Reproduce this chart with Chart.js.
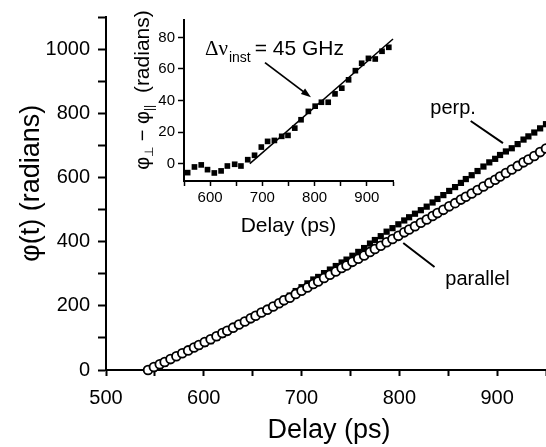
<!DOCTYPE html>
<html>
<head>
<meta charset="utf-8">
<script src="https://cdn.jsdelivr.net/npm/chart.js@4.4.0/dist/chart.umd.min.js"></script>
<style>
html, body { margin: 0; padding: 0; background: #fff; }
#wrap { position: relative; width: 546px; height: 447px; }
#mainChart { position: absolute; left: 0; top: 0; }
#insetChart { position: absolute; left: 100px; top: 0; }
</style>
</head>
<body>
<div id="wrap">
	<canvas id="mainChart" width="546" height="447"></canvas>
	<canvas id="insetChart" width="310" height="245"></canvas>
</div>
<script>

// main plot: phase vs delay
var delay = [543, 549, 555, 560, 566, 572, 578, 584, 590, 595, 601, 607, 613, 619, 624, 630, 636, 642, 648, 653,
	659, 665, 671, 677, 682, 688, 694, 700, 706, 712, 717, 723, 729, 735, 741, 746, 752, 758, 764, 770,
	775, 781, 787, 793, 799, 805, 810, 816, 822, 828, 834, 839, 845, 851, 857, 863, 868, 874, 880, 886,
	892, 898, 903, 909, 915, 921, 927, 932, 938, 944, 950];

var parallel = [0, 9, 18, 25, 34, 43, 52, 61, 70, 78, 87, 96, 105, 115, 122, 132, 142, 151, 161, 169,
	179, 188, 198, 208, 217, 225, 237, 247, 257, 268, 276, 287, 297, 307, 318, 326, 337, 347, 357, 368,
	377, 387, 398, 408, 418, 429, 438, 448, 459, 469, 480, 489, 499, 510, 520, 531, 540, 550, 561, 572,
	583, 593, 603, 614, 625, 636, 647, 656, 667, 679, 690];

var perp = [0, 5, 13, 20, 31, 41, 51, 60, 68, 74, 82, 90, 100, 110, 118, 130, 141, 150, 161, 168,
	178, 188, 200, 212, 222, 232, 246, 258, 270, 282, 290, 302, 313, 324, 335, 344, 356, 368, 380, 394,
	405, 417, 431, 442, 454, 466, 476, 487, 498, 509, 522, 533, 545, 558, 570, 583, 595, 607, 620, 634,
	647, 658, 670, 681, 691, 704, 718, 728, 740, 753, 766];

// inset: phase difference
var insetDelay = [557, 570, 583, 595, 608, 621, 633, 647, 659, 672, 685, 698, 710, 723, 737, 749,
	762, 774, 788, 801, 813, 826, 839, 852, 865, 878, 890, 903, 916, 929, 942];
var insetDiff = [-5.7, -2.1, -0.8, -3.8, -5.9, -4.6, -1.5, -0.4, -1.5, 2.5, 5.3, 10.5, 14.1, 14.7, 17.3, 17.9,
	22.5, 27.8, 33.1, 36.4, 38.9, 38.9, 44.2, 47.8, 53.1, 58.9, 63.6, 66.7, 66.3, 71.2, 73.7];
var fitDelay = [676, 950];
var fitDiff = [0, 79];

var insetYTicks = [0, 20, 40, 60, 80];

var SANS = '"Liberation Sans", Arial, Helvetica, sans-serif';
var SERIF = '"Liberation Serif", "Times New Roman", serif';

function toPoints(xs, ys){
	return xs.map(function(x, i){ return { x: x, y: ys[i] }; });
}

var mainNotes = {
	id: 'mainNotes',
	afterDraw: function(chart){
		var ctx = chart.ctx, xs = chart.scales.x, ys = chart.scales.y;
		function px(x){ return xs.getPixelForValue(x); }
		function py(y){ return ys.getPixelForValue(y); }
		ctx.save();
		ctx.strokeStyle = '#000';
		ctx.lineWidth = 2;
		ctx.beginPath();
		ctx.moveTo(px(873), py(776));
		ctx.lineTo(px(906), py(707));
		ctx.moveTo(px(804), py(396));
		ctx.lineTo(px(836), py(321));
		ctx.stroke();
		ctx.fillStyle = '#000';
		ctx.font = '20px ' + SANS;
		ctx.textAlign = 'center';
		ctx.textBaseline = 'middle';
		ctx.fillText('perp.', px(855), py(816));
		ctx.fillText('parallel', px(880), py(283));

		// axis titles
		ctx.font = '27px ' + SANS;
		ctx.fillText('Delay (ps)', px(728), 431);
		ctx.translate(32, py(582));
		ctx.rotate(-Math.PI / 2);
		ctx.fillText('φ(t) (radians)', 0, 0);
		ctx.restore();
	}
};

var mainChart = new Chart(document.getElementById('mainChart'), {
	type: 'scatter',
	data: {
		datasets: [{
			label: 'parallel',
			data: toPoints(delay, parallel),
			pointStyle: 'circle',
			pointRadius: 4.4,
			pointBorderWidth: 1.8,
			pointBorderColor: '#000',
			pointBackgroundColor: '#fff',
			clip: false
		}, {
			label: 'perp.',
			data: toPoints(delay, perp),
			pointStyle: 'rect',
			pointRadius: 4.4,
			pointBorderWidth: 0,
			pointBorderColor: '#000',
			pointBackgroundColor: '#000',
			clip: false
		}]
	},
	options: {
		responsive: false,
		animation: false,
		layout: { autoPadding: false, padding: { top: 17, right: 0, left: 0, bottom: 0 } },
		plugins: { legend: { display: false }, tooltip: { enabled: false } },
		scales: {
			x: {
				type: 'linear',
				min: 500,
				max: 950,
				afterFit: function(s){ s.height = 77; s.paddingLeft = 0; s.paddingRight = 0; },
				ticks: {
					stepSize: 50, autoSkip: false, maxRotation: 0, padding: 10, color: '#000',
					font: { family: SANS, size: 20 },
					callback: function(v){ return v % 100 === 0 ? v : ''; }
				},
				grid: { drawOnChartArea: false, tickLength: 6, tickWidth: 2, tickColor: '#000' },
				border: { color: '#000', width: 2 }
			},
			y: {
				type: 'linear',
				min: 0,
				max: 1100,
				afterFit: function(s){ s.width = 106; s.paddingTop = 0; s.paddingBottom = 0; },
				ticks: {
					stepSize: 100, autoSkip: false, padding: 8, color: '#000',
					font: { family: SANS, size: 20 },
					callback: function(v){ return (v % 200 === 0 && v <= 1000) ? v : ''; }
				},
				grid: { drawOnChartArea: false, tickLength: 8, tickWidth: 2, tickColor: '#000' },
				border: { color: '#000', width: 2 }
			}
		}
	},
	plugins: [mainNotes]
});

var insetNotes = {
	id: 'insetNotes',
	afterDraw: function(chart){
		var ctx = chart.ctx, xs = chart.scales.x, ys = chart.scales.y;
		function px(x){ return xs.getPixelForValue(x); }
		function py(y){ return ys.getPixelForValue(y); }
		ctx.save();
		ctx.fillStyle = '#000';
		ctx.strokeStyle = '#000';

		// arrow to the fitted line
		var x0 = px(705), y0 = py(64), x1 = px(793), y1 = py(42);
		var a = Math.atan2(y1 - y0, x1 - x0);
		ctx.lineWidth = 1.8;
		ctx.beginPath();
		ctx.moveTo(x0, y0);
		ctx.lineTo(x1 - 7 * Math.cos(a), y1 - 7 * Math.sin(a));
		ctx.stroke();
		ctx.beginPath();
		ctx.moveTo(x1, y1);
		ctx.lineTo(x1 - 10 * Math.cos(a) + 3.5 * Math.sin(a), y1 - 10 * Math.sin(a) - 3.5 * Math.cos(a));
		ctx.lineTo(x1 - 10 * Math.cos(a) - 3.5 * Math.sin(a), y1 - 10 * Math.sin(a) + 3.5 * Math.cos(a));
		ctx.closePath();
		ctx.fill();

		// annotation text
		var tx = px(590), ty = py(68.6);
		ctx.textBaseline = 'alphabetic';
		ctx.textAlign = 'left';
		ctx.font = '21px ' + SERIF;
		ctx.fillText('Δν', tx, ty);
		tx += ctx.measureText('Δν').width + 1;
		ctx.font = '14px ' + SANS;
		ctx.fillText('inst', tx, ty + 7);
		tx += ctx.measureText('inst').width + 4;
		ctx.font = '21px ' + SANS;
		ctx.fillText('= 45 GHz', tx, ty);

		// rotated y title
		var parts = [
			['φ', 20, 0], ['⊥', 12, 4], [' − ', 20, 0], ['φ', 20, 0], ['||', 12, 4], ['  (radians)', 21, 0]
		];
		var total = 0;
		parts.forEach(function(p){ ctx.font = p[1] + 'px ' + SANS; total += ctx.measureText(p[0]).width; });
		ctx.translate(xs.left - 42, 90);
		ctx.rotate(-Math.PI / 2);
		var cx = -total / 2;
		parts.forEach(function(p){
			ctx.font = p[1] + 'px ' + SANS;
			ctx.fillText(p[0], cx, 7 + p[2]);
			cx += ctx.measureText(p[0]).width;
		});
		ctx.restore();
	}
};

var insetChart = new Chart(document.getElementById('insetChart'), {
	type: 'scatter',
	data: {
		datasets: [{
			label: 'diff',
			data: toPoints(insetDelay, insetDiff),
			pointStyle: 'rect',
			pointRadius: 4,
			pointBorderWidth: 0,
			pointBackgroundColor: '#000',
			clip: false
		}, {
			label: 'fit',
			data: toPoints(fitDelay, fitDiff),
			showLine: true,
			pointRadius: 0,
			borderColor: '#000',
			borderWidth: 1.5,
			clip: false
		}]
	},
	options: {
		responsive: false,
		animation: false,
		layout: { autoPadding: false, padding: { top: 20, right: 17, left: 0, bottom: 0 } },
		plugins: { legend: { display: false }, tooltip: { enabled: false } },
		scales: {
			x: {
				type: 'linear',
				min: 550,
				max: 950,
				afterFit: function(s){ s.height = 64; },
				ticks: {
					stepSize: 50, autoSkip: false, maxRotation: 0, padding: 3, color: '#000',
					font: { family: SANS, size: 15 },
					callback: function(v){ return v % 100 === 0 ? v : ''; }
				},
				grid: { drawOnChartArea: false, tickLength: 5, tickWidth: 1.5, tickColor: '#000' },
				border: { color: '#000', width: 2 },
				title: { display: true, text: 'Delay (ps)', color: '#000', font: { family: SANS, size: 21 }, padding: { top: 0, bottom: 6 } }
			},
			y: {
				type: 'linear',
				min: -11,
				max: 91,
				afterFit: function(s){ s.width = 84; },
				afterBuildTicks: function(s){
					s.ticks = insetYTicks.map(function(v){ return { value: v }; });
				},
				ticks: { padding: 3, color: '#000', font: { family: SANS, size: 15 } },
				grid: { drawOnChartArea: false, tickLength: 6, tickWidth: 1.5, tickColor: '#000' },
				border: { color: '#000', width: 2 }
			}
		}
	},
	plugins: [insetNotes]
});

</script>
</body>
</html>
